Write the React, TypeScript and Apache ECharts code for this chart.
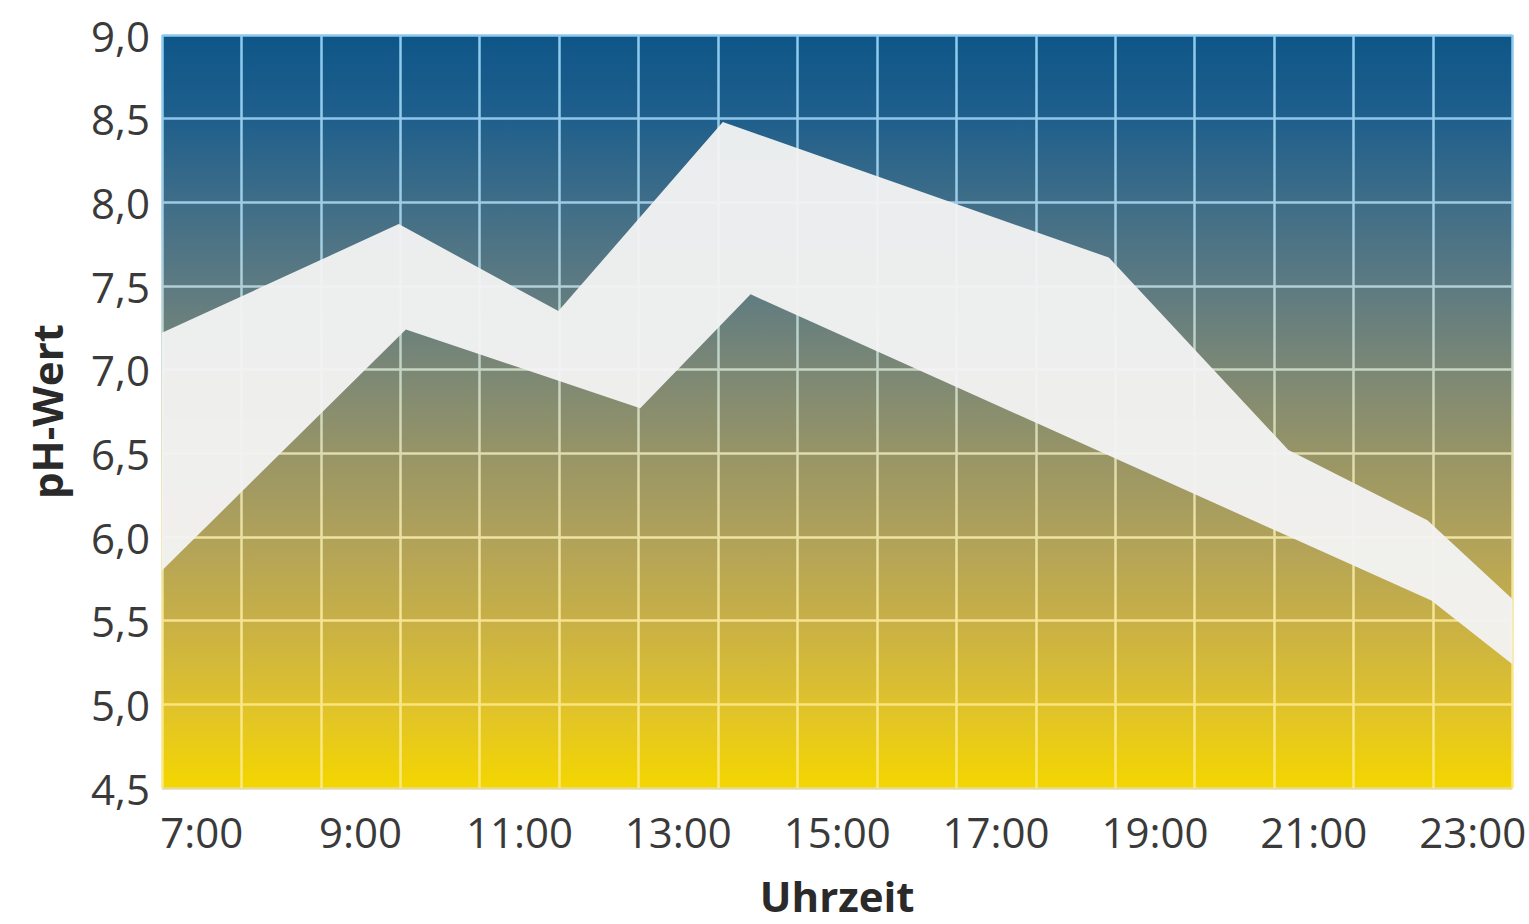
import React, { useEffect, useRef } from "react";
import * as echarts from "echarts";

// Hour categories (one band per hour, labels every 2 hours)
const hourCategories = [
  "7:00", "8:00", "9:00", "10:00", "11:00", "12:00", "13:00", "14:00", "15:00",
  "16:00", "17:00", "18:00", "19:00", "20:00", "21:00", "22:00", "23:00",
];

// Upper boundary of the pH band (time in hours, pH value)
const upperTimes = [6.5, 9.48, 11.49, 13.56, 18.42, 20.68, 22.43, 23.5];
const upperPH = [7.22, 7.87, 7.35, 8.48, 7.67, 6.52, 6.1, 5.63];

// Lower boundary of the pH band
const lowerTimes = [6.5, 9.57, 12.52, 13.91, 22.48, 23.5];
const lowerPH = [5.8, 7.24, 6.77, 7.45, 5.62, 5.24];

// y axis range
const yMin = 4.5;
const yMax = 9.0;
const yStep = 0.5;

const FONT = "'Open Sans', 'Noto Sans', sans-serif";

export default function App() {
  const ref = useRef<HTMLDivElement>(null);

  useEffect(() => {
    if (!ref.current) return;
    const chart = echarts.init(ref.current, undefined, { renderer: "svg" });

    const gridTop = 35;
    const gridBottomPx = 788;

    const bg = new echarts.graphic.LinearGradient(0, 0, 0, 1, [
      { offset: 0, color: "#0e5688" },
      { offset: 0.11, color: "#1f5f8c" },
      { offset: 0.22, color: "#3e6d88" },
      { offset: 0.33, color: "#5c7a82" },
      { offset: 0.44, color: "#7a8776" },
      { offset: 0.56, color: "#989566" },
      { offset: 0.67, color: "#b1a25a" },
      { offset: 0.78, color: "#c8b046" },
      { offset: 0.89, color: "#dfc22c" },
      { offset: 1, color: "#f4d600" },
    ]);

    const vGrid = new echarts.graphic.LinearGradient(
      0,
      gridTop,
      0,
      gridBottomPx,
      [
        { offset: 0, color: "#8ccbf0" },
        { offset: 0.25, color: "#a0cde6" },
        { offset: 0.45, color: "#c4d4c4" },
        { offset: 0.6, color: "#e4deaa" },
        { offset: 0.8, color: "#f8e692" },
        { offset: 1, color: "#fde87c" },
      ],
      true
    );

    const hColors = [
      "#e4da9c", // 4.5
      "#fbe57c", // 5.0
      "#f6e292", // 5.5
      "#efe3a6", // 6.0
      "#e0dcb0", // 6.5
      "#c8d6c0", // 7.0
      "#b2d0d6", // 7.5
      "#a0cbe4", // 8.0
      "#90c6ec", // 8.5
      "#8ec8ea", // 9.0
    ];

    chart.setOption({
      animation: false,
      grid: {
        left: 162,
        right: 9,
        top: gridTop,
        bottom: 924 - gridBottomPx,
        show: true,
        backgroundColor: bg,
        borderWidth: 0,
      },
      xAxis: [
        {
          type: "category",
          data: hourCategories,
          boundaryGap: true,
          axisLine: { show: false },
          axisTick: { show: false },
          axisLabel: {
            interval: 1,
            margin: 22,
            color: "#3a3a3a",
            fontSize: 42,
            fontFamily: FONT,
          },
          splitLine: {
            show: true,
            interval: 0,
            lineStyle: { color: vGrid, width: 2.5 },
          },
          name: "Uhrzeit",
          nameLocation: "middle",
          nameGap: 86,
          nameTextStyle: {
            color: "#2a2a2a",
            fontSize: 42,
            fontWeight: "bold",
            fontFamily: FONT,
          },
        },
        {
          type: "value",
          min: 6.5,
          max: 23.5,
          show: false,
        },
      ],
      yAxis: {
        type: "value",
        min: yMin,
        max: yMax,
        interval: yStep,
        axisLine: { show: false },
        axisTick: { show: false },
        axisLabel: {
          margin: 12,
          color: "#3a3a3a",
          fontSize: 42,
          fontFamily: FONT,
          formatter: (v: number) => v.toFixed(1).replace(".", ","),
        },
        splitLine: {
          show: true,
          lineStyle: { color: hColors, width: 2.5 },
        },
        name: "pH-Wert",
        nameLocation: "middle",
        nameGap: 95,
        nameRotate: 90,
        nameTextStyle: {
          color: "#2a2a2a",
          fontSize: 42,
          fontWeight: "bold",
          fontFamily: FONT,
        },
      },
      series: [
        {
          type: "custom",
          xAxisIndex: 1,
          yAxisIndex: 0,
          silent: true,
          clip: true,
          data: [[upperTimes[0], upperPH[0]]],
          renderItem: (_params: any, api: any) => {
            const top = upperTimes.map((t, i) => api.coord([t, upperPH[i]]));
            const bottom = lowerTimes
              .map((t, i) => api.coord([t, lowerPH[i]]))
              .reverse();
            return {
              type: "polygon",
              shape: { points: top.concat(bottom) },
              style: { fill: "#f2f3f3", opacity: 0.96 },
            };
          },
        },
      ],
    });

    return () => chart.dispose();
  }, []);

  return (
    <div
      ref={ref}
      style={{
        position: "fixed",
        left: 0,
        top: 0,
        width: "1529px",
        height: "924px",
        background: "#ffffff",
      }}
    />
  );
}
